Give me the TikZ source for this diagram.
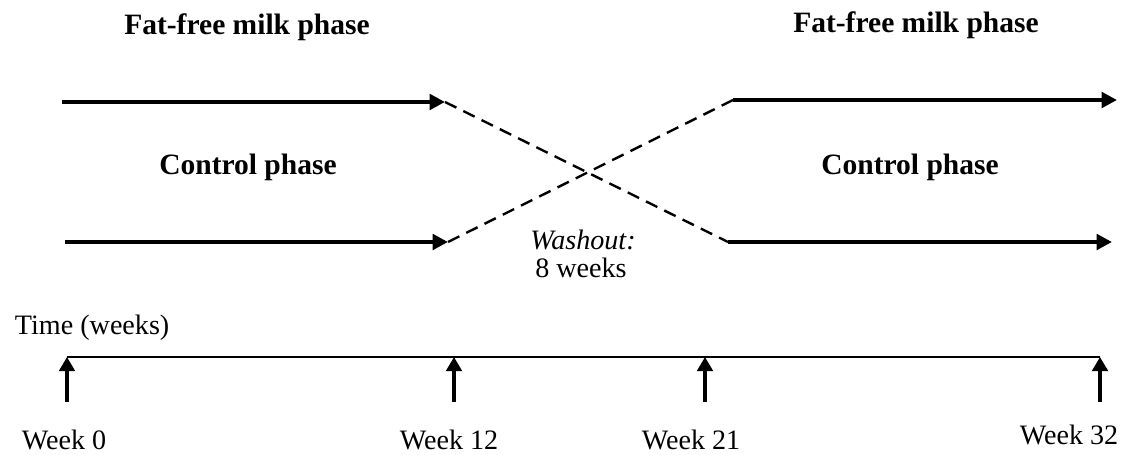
\documentclass[tikz,border=0pt]{standalone}
\usepackage{fontspec}
\setmainfont{Liberation Serif}
\usetikzlibrary{arrows.meta}
\tikzset{
  phase/.style={line width=3.4pt,-{Triangle[length=11pt,width=11pt]}},
  washout/.style={line width=1.7pt,dash pattern=on 9pt off 5.5pt},
  tick/.style={line width=3.4pt,-{Triangle[length=10pt,width=11pt]}},
  title/.style={font=\fontsize{21}{25}\selectfont\bfseries},
  lbl/.style={font=\fontsize{20}{24}\selectfont},
}

\begin{document}
\begin{tikzpicture}
\useasboundingbox (0,0) rectangle (28.275,11.375);

\begin{scope}
  % first period
  \node[title] (ffmA) at (6.175,10.7) {Fat-free milk phase};
  \node[title] (ctrlA) at (6.2,7.2) {Control phase};
  \coordinate (topA0) at (1.55,8.825);
  \coordinate (topA1) at (11.125,8.825);
  \coordinate (botA0) at (1.625,5.325);
  \coordinate (botA1) at (11.2,5.325);
  \draw[phase] (topA0) -- (topA1);
  \draw[phase] (botA0) -- (botA1);
\end{scope}

\begin{scope}
  % second period
  \node[title] (ffmB) at (22.9,10.75) {Fat-free milk phase};
  \node[title] (ctrlB) at (22.75,7.2) {Control phase};
  \coordinate (topB0) at (18.325,8.875);
  \coordinate (topB1) at (27.925,8.875);
  \coordinate (botB0) at (18.2,5.325);
  \coordinate (botB1) at (27.8,5.325);
  \draw[phase] (topB0) -- (topB1);
  \draw[phase] (botB0) -- (botB1);
\end{scope}

% washout
\draw[washout] (topA1) -- (botB0);
\draw[washout] (botA1) -- (topB0);
\node[lbl,font=\fontsize{20}{24}\selectfont\itshape] (wash) at (14.575,5.375) {Washout:};
\node[lbl] (washlen) at (14.525,4.675) {8 weeks};

% time axis
\node[lbl,anchor=west] (time) at (0.25,3.175) {Time (weeks)};
\coordinate (t0) at (1.675,2.45);
\coordinate (t12) at (11.35,2.45);
\coordinate (t21) at (17.625,2.45);
\coordinate (t32) at (27.5,2.45);
\draw[line width=1.1pt] (t0) -- (t32);

\foreach \w/\x/\lx/\ly in {0/1.675/1.6/0.375, 12/11.35/11.225/0.375, 21/17.625/17.275/0.375, 32/27.5/26.725/0.5} {
  \coordinate (s\w) at (\x,1.325);
  \draw[tick] (s\w) -- (t\w);
  \node[lbl] (wk\w) at (\lx,\ly) {Week~\w};
}

\end{tikzpicture}
\end{document}
